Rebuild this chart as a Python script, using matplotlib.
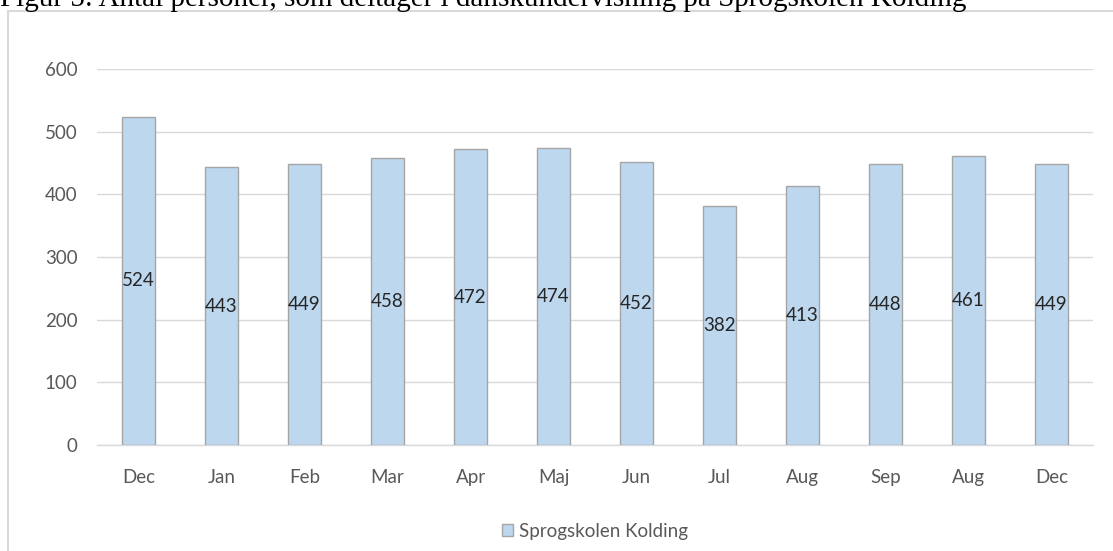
import matplotlib
matplotlib.use("Agg")
import matplotlib.pyplot as plt
from matplotlib.patches import Rectangle

# Data
months = ['Dec', 'Jan', 'Feb', 'Mar', 'Apr', 'Maj', 'Jun', 'Jul', 'Aug', 'Sep', 'Aug', 'Dec']
values = [524, 443, 449, 458, 472, 474, 452, 382, 413, 448, 461, 449]
yticks = [0, 100, 200, 300, 400, 500, 600]
series_name = 'Sprogskolen Kolding'
title = 'Figur 5: Antal personer, som deltager i danskundervisning på Sprogskolen Kolding'

W, H = 1113, 551
fig = plt.figure(figsize=(W / 100, H / 100), dpi=100)
plt.rcParams['font.family'] = ['Lato', 'DejaVu Sans']

# Chart frame (light gray border, cut at right and bottom)
frame = Rectangle((8 / W, -0.05), 1.1, 1 - 11 / H + 0.05, transform=fig.transFigure,
                  fill=False, edgecolor='#d9d9d9', linewidth=1.5)
fig.add_artist(frame)

# Document caption, partially cropped at the top
fig.text(0 / W, 1 - 6 / H, title, ha='left', va='baseline',
         fontsize=21, family='Liberation Serif', color='black')

ax = fig.add_axes([97 / W, 1 - 445 / H, 996 / W, (445 - 69) / H])
x = range(len(months))
bars = ax.bar(x, values, width=0.4, color='#bdd7ee', edgecolor='#a5a5a5',
              linewidth=1.0, zorder=3)

for xi, v in zip(x, values):
    ax.text(xi, v / 2, str(v), ha='center', va='center', fontsize=13.5,
            color='#262626', zorder=4)

ax.set_xlim(-0.5, len(months) - 0.5)
ax.set_ylim(0, 600)
ax.set_yticks(yticks)
ax.set_xticks(list(x))
ax.set_xticklabels(months)
ax.grid(axis='y', color='#d9d9d9', linewidth=1.0, zorder=0)
ax.tick_params(axis='both', length=0, labelsize=13.5, labelcolor='#595959')
ax.tick_params(axis='y', pad=14)
ax.tick_params(axis='x', pad=17)
for side in ['top', 'right', 'left']:
    ax.spines[side].set_visible(False)
ax.spines['bottom'].set_color('#d9d9d9')
ax.spines['bottom'].set_linewidth(1.0)

leg = ax.legend([bars[0]], [series_name], loc='center', bbox_to_anchor=(0.5, -0.23),
                frameon=False, fontsize=13.5, handlelength=0.6, handleheight=0.6,
                handletextpad=0.3)
for t in leg.get_texts():
    t.set_color('#595959')

fig.savefig('out.png', dpi=100)
